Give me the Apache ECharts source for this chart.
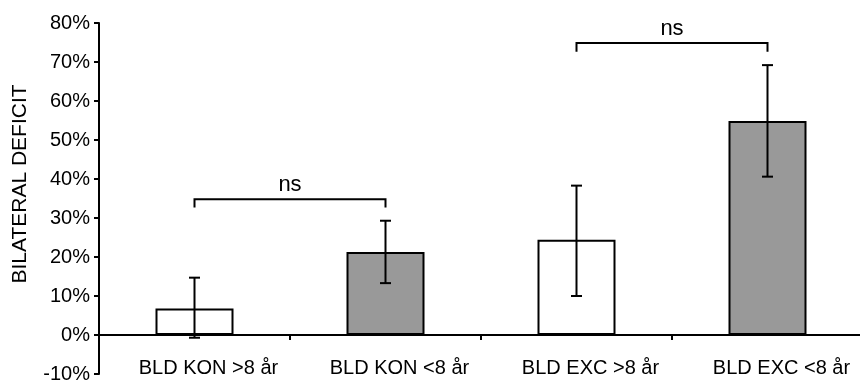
<!DOCTYPE html>
<html>
<head>
<meta charset="utf-8">
<script src="https://cdn.jsdelivr.net/npm/echarts@6/dist/echarts.min.js"></script>
<style>
  html, body { margin: 0; padding: 0; background: #fff; }
  #chart { width: 860px; height: 381px; }
</style>
</head>
<body>
<div id="chart"></div>
<script>
// groups and values (percent)
var categories = ['BLD KON >8 år', 'BLD KON <8 år', 'BLD EXC >8 år', 'BLD EXC <8 år'];
var meanList = [6.8, 21.3, 24.4, 54.9];
var errLowList = [-0.7, 13.3, 10.0, 40.6];
var errHighList = [14.7, 29.3, 38.3, 69.2];
var barColors = ['#ffffff', '#999999', '#ffffff', '#999999'];
// significance brackets: from, to, top, foot
var bracketList = [[0, 1, 34.8, 32.7], [2, 3, 74.9, 72.6]];
var bracketText = ['ns', 'ns'];

var font = 'Liberation Sans, Arial, sans-serif';

var chart = echarts.init(document.getElementById('chart'));

var barData = [];
var errData = [];
for (var i = 0; i < categories.length; i++) {
	barData.push({
		value: meanList[i],
		itemStyle: { color: barColors[i] }
	});
	errData.push([i, errLowList[i], errHighList[i]]);
}
var brData = [];
for (var j = 0; j < bracketList.length; j++) {
	brData.push(bracketList[j].concat([j]));
}

var option = {
	animation: false,
	grid: {
		left: 99,
		top: 23,
		width: 764,
		height: 351,
		containLabel: false,
		outerBoundsMode: 'none'
	},
	xAxis: {
		type: 'category',
		data: categories,
		axisLine: { onZero: true, lineStyle: { color: '#000', width: 2 } },
		axisTick: { show: true, inside: false, length: 5, lineStyle: { color: '#000', width: 2 } },
		// labels sit at the grid bottom, pulled up into the gap under the zero line
		axisLabel: { color: '#000', fontSize: 20, fontFamily: font, margin: -16, padding: [0, 0, 0, 28] },
		splitLine: { show: false }
	},
	yAxis: {
		type: 'value',
		min: -10,
		max: 80,
		interval: 10,
		axisLine: { show: true, onZero: false, lineStyle: { color: '#000', width: 2 } },
		axisTick: { show: true, inside: false, length: 5, lineStyle: { color: '#000', width: 2 } },
		axisLabel: { color: '#000', fontSize: 20, fontFamily: font, margin: 9, formatter: '{value}%' },
		splitLine: { show: false }
	},
	graphic: [{
		type: 'text',
		x: 20,
		y: 184,
		rotation: Math.PI / 2,
		style: {
			text: 'BILATERAL DEFICIT',
			fill: '#000',
			font: '21px ' + font,
			textAlign: 'center',
			textVerticalAlign: 'middle'
		}
	}],
	series: [{
		type: 'bar',
		data: barData,
		barWidth: 78,
		itemStyle: { borderColor: '#000', borderWidth: 2 },
		z: 2
	}, {
		type: 'custom',
		data: errData,
		z: 3,
		renderItem: function(params, api) {
			var top = api.coord([api.value(0), api.value(2)]);
			var bot = api.coord([api.value(0), api.value(1)]);
			var x = top[0];
			var hw = 5.5;
			var st = { stroke: '#000', lineWidth: 2 };
			return {
				type: 'group',
				children: [
					{ type: 'line', shape: { x1: x, y1: top[1], x2: x, y2: bot[1] }, style: st },
					{ type: 'line', shape: { x1: x - hw, y1: top[1], x2: x + hw, y2: top[1] }, style: st },
					{ type: 'line', shape: { x1: x - hw, y1: bot[1], x2: x + hw, y2: bot[1] }, style: st }
				]
			};
		}
	}, {
		type: 'custom',
		data: brData,
		z: 3,
		renderItem: function(params, api) {
			var a = api.coord([api.value(0), api.value(2)]);
			var b = api.coord([api.value(1), api.value(2)]);
			var foot = api.coord([api.value(0), api.value(3)])[1];
			var st = { stroke: '#000', lineWidth: 2, fill: null };
			return {
				type: 'group',
				children: [{
					type: 'polyline',
					shape: { points: [[a[0], foot], [a[0], a[1]], [b[0], a[1]], [b[0], foot]] },
					style: st
				}, {
					type: 'text',
					x: (a[0] + b[0]) / 2,
					y: a[1] - 3,
					style: {
						text: bracketText[api.value(4)],
						fill: '#000',
						font: '22px ' + font,
						textAlign: 'center',
						textVerticalAlign: 'bottom'
					}
				}]
			};
		}
	}]
};

chart.setOption(option);
</script>
</body>
</html>
